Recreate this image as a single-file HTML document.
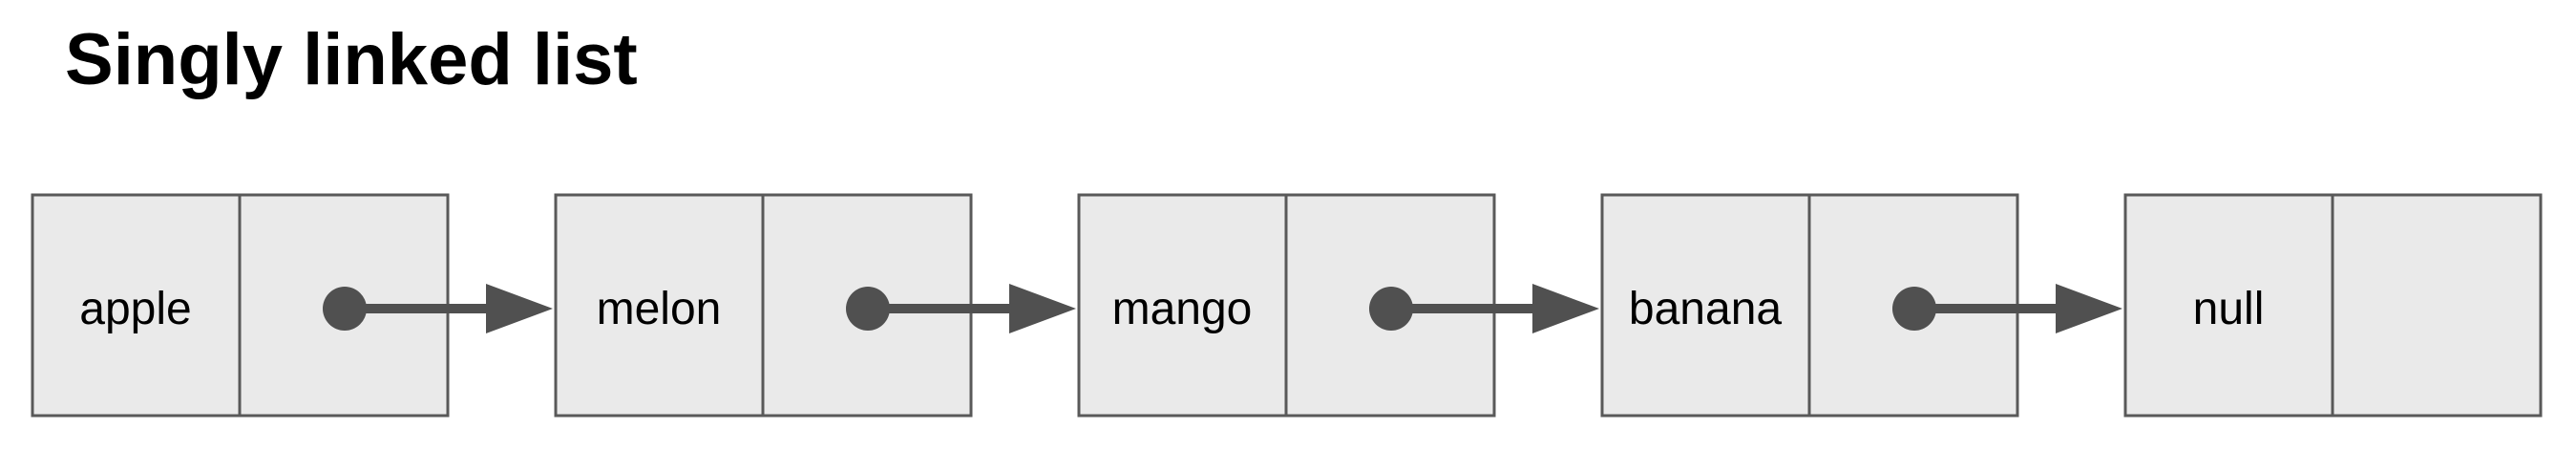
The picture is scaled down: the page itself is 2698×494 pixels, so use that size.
<!DOCTYPE html>
<html><head><style>
html,body{margin:0;padding:0;background:#fff;width:2698px;height:494px;overflow:hidden}
</style></head><body>
<svg width="2698" height="494" xmlns="http://www.w3.org/2000/svg">
<text x="68" y="88" font-family="Liberation Sans, sans-serif" font-weight="bold" font-size="76" fill="#000">Singly linked list</text>
<g font-family="Liberation Sans, sans-serif" font-size="48" fill="#000" text-anchor="middle">
<g id="n">
</g>
</g>
<g stroke="#595959" stroke-width="3" fill="#eaeaea">
<rect x="34" y="204" width="435" height="231"/><line x1="251" y1="204" x2="251" y2="435"/>
<rect x="582" y="204" width="435" height="231"/><line x1="799" y1="204" x2="799" y2="435"/>
<rect x="1130" y="204" width="435" height="231"/><line x1="1347" y1="204" x2="1347" y2="435"/>
<rect x="1678" y="204" width="435" height="231"/><line x1="1895" y1="204" x2="1895" y2="435"/>
<rect x="2226" y="204" width="435" height="231"/><line x1="2443" y1="204" x2="2443" y2="435"/>
</g>
<g fill="#000" font-family="Liberation Sans, sans-serif" font-size="48" text-anchor="middle">
<text x="142" y="339">apple</text>
<text x="690" y="339">melon</text>
<text x="1238" y="339">mango</text>
<text x="1786" y="339">banana</text>
<text x="2334" y="339">null</text>
</g>
<g fill="#505050">
<g><circle cx="361" cy="323" r="23"/><rect x="361" y="318" width="150" height="10"/><polygon points="509,297 579,323 509,349"/></g>
<g transform="translate(548,0)"><circle cx="361" cy="323" r="23"/><rect x="361" y="318" width="150" height="10"/><polygon points="509,297 579,323 509,349"/></g>
<g transform="translate(1096,0)"><circle cx="361" cy="323" r="23"/><rect x="361" y="318" width="150" height="10"/><polygon points="509,297 579,323 509,349"/></g>
<g transform="translate(1644,0)"><circle cx="361" cy="323" r="23"/><rect x="361" y="318" width="150" height="10"/><polygon points="509,297 579,323 509,349"/></g>
</g>
</svg>
</body></html>
